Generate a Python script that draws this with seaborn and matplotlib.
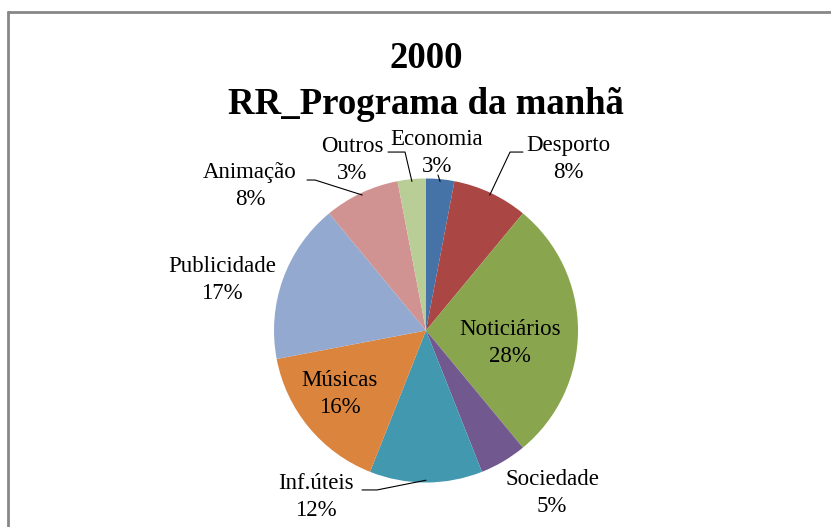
import numpy as np
import matplotlib
matplotlib.use("Agg")
from matplotlib import pyplot as plt
from matplotlib.lines import Line2D
import seaborn as sns

# slices, clockwise from 12 o'clock
categories = ["Economia", "Desporto", "Noticiários", "Sociedade", "Inf.úteis",
              "Músicas", "Publicidade", "Animação", "Outros"]
values = [3, 8, 28, 5, 12, 16, 17, 8, 3]
colors = ["#4572A7", "#AA4643", "#89A54E", "#71588F", "#4198AF",
          "#DB843D", "#93A9CF", "#D19392", "#B9CD96"]
title_lines = ["2000", "RR_Programa da manhã"]

# label block centres (in pie radius units)
label_pos = [(0.072, 1.168), (0.934, 1.128), (0.553, -0.082), (0.829, -1.069),
             (-0.724, -1.095), (-0.566, -0.418), (-1.342, 0.332),
             (-1.158, 0.951), (-0.487, 1.122)]
# leader line: horizontal piece near the label (x0, x1, y), None = no leader
leaders = [(0.079, 0.079, 1.023), (0.638, 0.553, 1.174), None, None,
           (-0.421, -0.322, -1.049), None, None,
           (-0.783, -0.730, 0.990), (-0.250, -0.138, 1.174)]

sns.set_style("white")
plt.rcParams['font.family'] = ['Liberation Serif', 'DejaVu Serif']
plt.rcParams['text.color'] = 'black'

W, H = 831, 527
fig = plt.figure(figsize=(W / 100, H / 100), dpi=100)
cx, cy, r = 426, 330.5, 152
ax = fig.add_axes([(cx - r) / W, (H - cy - r) / H, 2 * r / W, 2 * r / H])

wedges, _ = ax.pie(values, colors=sns.color_palette(colors), startangle=90,
                   counterclock=False, radius=1,
                   wedgeprops=dict(linewidth=0))
ax.set_xlim(-1, 1)
ax.set_ylim(-1, 1)
ax.axis('off')

total = sum(values)
for w, name, v, (tx, ty), ld in zip(wedges, categories, values, label_pos, leaders):
    ax.text(tx, ty, f"{name}\n{round(100 * v / total)}%", ha='center', va='center',
            fontsize=16.5, color='black', linespacing=1.4, clip_on=False)
    if ld is not None:
        mid = np.deg2rad((w.theta1 + w.theta2) / 2)
        ex, ey = 0.985 * np.cos(mid), 0.985 * np.sin(mid)
        x0, x1, y = ld
        ax.add_line(Line2D([x0, x1, ex], [y, y, ey], color='black', lw=0.8,
                           clip_on=False))

fig.text(cx / W, 1 - 59 / H, title_lines[0], ha='center', va='center',
         fontsize=26.5, fontweight='bold', color='black')
fig.text(cx / W, 1 - 104 / H, title_lines[1], ha='center', va='center',
         fontsize=26.5, fontweight='bold', color='black')

# chart frame (runs off the right and bottom edges)
fx, fy = 8 / W, 1 - 12 / H
fig.add_artist(Line2D([fx, fx], [fy, 0], color='#878787', lw=2,
                      transform=fig.transFigure))
fig.add_artist(Line2D([fx, 1], [fy, fy], color='#878787', lw=2,
                      transform=fig.transFigure))

fig.savefig("out.png", dpi=100)
